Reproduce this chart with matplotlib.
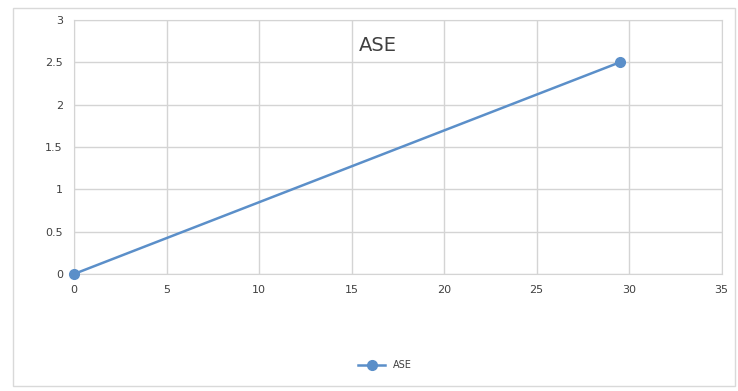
import matplotlib
matplotlib.use("Agg")
import matplotlib.pyplot as plt
from matplotlib.patches import Rectangle
from matplotlib.lines import Line2D

x_vals = [0, 29.5]
y_vals = [0, 2.5]
series_name = "ASE"
x_ticks = [0, 5, 10, 15, 20, 25, 30, 35]
y_ticks = [0, 0.5, 1, 1.5, 2, 2.5, 3]
y_tick_labels = ["0", "0.5", "1", "1.5", "2", "2.5", "3"]

W, H = 738, 391
fig = plt.figure(figsize=(W / 100, H / 100), dpi=100)
fig.patch.set_facecolor("white")

# outer chart frame
fig.patches.append(Rectangle((13 / W, 1 - 386 / H), (735 - 13) / W, (386 - 8) / H,
                             transform=fig.transFigure, fill=False,
                             edgecolor="#D9D9D9", linewidth=1.0))

ax = fig.add_axes([74 / W, 1 - 274 / H, (721.5 - 74) / W, (274 - 20) / H])
ax.set_xlim(0, 35)
ax.set_ylim(0, 3)
ax.set_xticks(x_ticks)
ax.set_yticks(y_ticks)
ax.set_yticklabels(y_tick_labels)
ax.grid(True, color="#D4D4D4", linewidth=1.0)
ax.set_axisbelow(True)
for side in ("top", "right", "left", "bottom"):
    ax.spines[side].set_color("#D4D4D4")
ax.tick_params(axis="both", length=0, labelsize=8, colors="#404040", pad=8)

color = "#5B8FC9"
ax.plot(x_vals, y_vals, color=color, linewidth=1.8, marker="o",
        markersize=7, markerfacecolor=color, markeredgecolor=color,
        clip_on=False, zorder=3)

ax.text(16.4, 2.7, series_name, fontsize=14, color="#404040", ha="center", va="center")

handle = Line2D([], [], color=color, linewidth=1.8, marker="o", markersize=7)
fig.legend([handle], [series_name], loc="center", bbox_to_anchor=(385 / W, 1 - 365 / H),
           frameon=False, fontsize=7, handlelength=2.8, labelcolor="#404040")

fig.savefig("out.png", dpi=100, facecolor="white")
